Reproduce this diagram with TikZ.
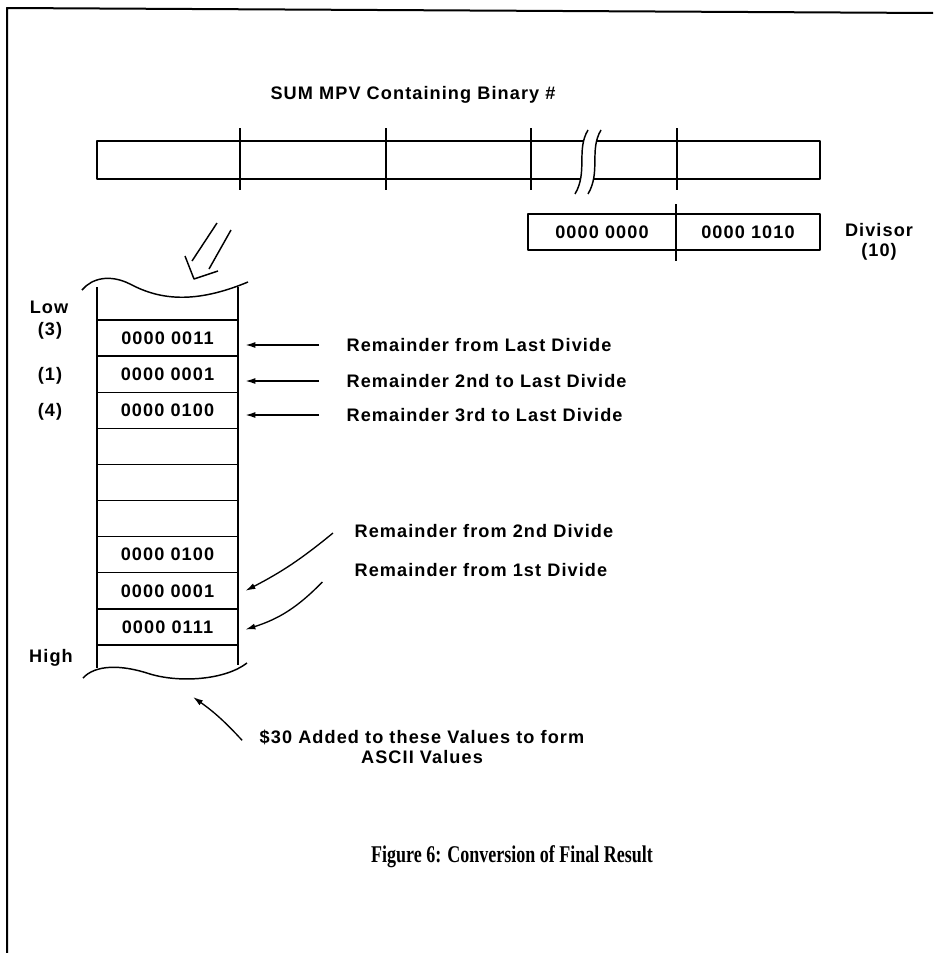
\documentclass[tikz,border=0pt]{standalone}
\usepackage{fontspec}
\usepackage{graphicx}
\usetikzlibrary{arrows.meta}
\newfontfamily\lblfamily[LetterSpace=6]{Liberation Sans}
\newfontfamily\capfamily{Liberation Serif}
\newcommand\lbl{\lblfamily\bfseries\fontsize{13.6}{15}\selectfont}
\newcommand\capfont{\capfamily\bfseries\fontsize{18}{20}\selectfont}
\begin{document}
\begin{tikzpicture}[x=0.75pt, y=-0.75pt, line join=round,
      line/.style={draw, line width=1.1pt},
      frame/.style={draw, line width=1.5pt},
      cell/.style={draw, line width=1.1pt, minimum width=105.75pt, minimum height=27.08pt, inner sep=0pt, font=\lbl},
      dcell/.style={draw, line width=1.1pt, minimum height=27pt, inner sep=0pt, font=\lbl},
      txt/.style={font=\lbl, inner sep=1pt, align=center},
      rem/.style={txt, anchor=west},
      arr/.style={line width=1pt, -{Latex[length=7.5pt, width=4.5pt]}}]
    \useasboundingbox (0,0) rectangle (933,953);
    % page frame
    \draw[frame] (933,13) -- (7,8) -- (7,953);
    % SUM bar with break
    \node[txt] (sum) at (413,95) {SUM MPV Containing Binary \#};
    \draw[line] (583,141) -- (97,141) -- (97,179) -- (580,179);
    \draw[line] (596,141) -- (820,141) -- (820,179) -- (593,179);
    \draw[line] (588,130) .. controls (576,150) and (588,172) .. (575,194);
    \draw[line] (601,130) .. controls (589,150) and (601,172) .. (588,194);
    \foreach \x in {240,386,531,677}
      \draw[line] (\x,128) -- (\x,190);
    % divisor
    \node[dcell, minimum width=111pt] (dv1) at (602,232) {0000 0000};
    \node[dcell, minimum width=108pt] (dv2) at (748,232) {0000 1010};
    \draw[line] (676,204) -- (676,261);
    \node[txt] (dvs) at (879,242) {Divisor\\(10)};
    % hollow arrow into the stack
    \coordinate (hTip) at (194,279);
    \draw[line] (217,223) -- (192,261);
    \draw[line] (231,230) -- (209,269);
    \draw[line] (185,256) -- (hTip) -- (218,271);
    % stack
    \draw[line] (97,287) -- (97,668);
    \draw[line] (238,287) -- (238,665);
    \draw[line] (82,290) .. controls (92,278) and (110,274) .. (130,284)
      .. controls (160,300) and (195,304) .. (248,282);
    \draw[line] (83,678) .. controls (95,665) and (120,664) .. (150,674)
      .. controls (180,683) and (225,680) .. (247,663);
    \foreach \t [count=\i] in {0000 0011,0000 0001,0000 0100,{},{},{},0000 0100,0000 0001,0000 0111}
      \node[cell] (c\i) at (167.5,{302+36.1*\i}) {\t};
    \node[txt] (low) at (49,307) {Low};
    \node[txt] (n3) at (50,331) {(3)};
    \node[txt] (n1) at (50,376) {(1)};
    \node[txt] (n4) at (50,412) {(4)};
    \node[txt] (high) at (51,658) {High};
    % remainders
    \node[rem] (r1) at (345,345) {Remainder from Last Divide};
    \node[rem] (r2) at (345,381) {Remainder 2nd to Last Divide};
    \node[rem] (r3) at (345,415) {Remainder 3rd to Last Divide};
    \node[rem] (r4) at (353,531) {Remainder from 2nd Divide};
    \node[rem] (r5) at (353,570) {Remainder from 1st Divide};
    \draw[arr] ([xshift=-19.5pt]r1.west) -- ([xshift=5pt]c1.east |- r1.west);
    \draw[arr] ([xshift=-19.5pt]r2.west) -- ([xshift=5pt]c2.east |- r2.west);
    \draw[arr] ([xshift=-19.5pt]r3.west) -- ([xshift=5pt]c3.east |- r3.west);
    \draw[arr] ([xshift=-15pt, yshift=-1.5pt]r4.west) to[bend left=6] ([xshift=5pt]c8.east);
    \draw[arr] ([xshift=-23pt, yshift=-9pt]r5.west) to[bend left=14] ([xshift=5pt, yshift=-2pt]c9.east);
    % ascii note
    \node[txt] (asc) at (422,747) {\$30 Added to these Values to form\\ASCII Values};
    \coordinate (ascTip) at (193,697);
    \draw[arr] ([xshift=-12pt, yshift=5pt]asc.west) to[bend right=6] (ascTip);
    % caption
    \node (cap) at (512,857) {\scalebox{0.75}[1]{\capfont Figure 6: Conversion of Final Result}};
  \end{tikzpicture}
\end{document}
